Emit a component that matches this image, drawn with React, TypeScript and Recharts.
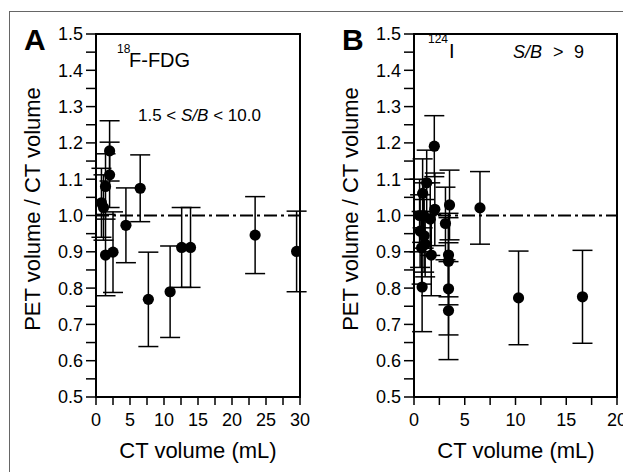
import React from 'react';
import { ScatterChart, Scatter, XAxis, YAxis, ErrorBar, ReferenceLine, ReferenceArea } from 'recharts';

// ---- Data ----
const aX = [0.8, 1.1, 1.4, 2.0, 2.0, 1.4, 2.5, 4.4, 6.5, 7.7, 10.9, 12.6, 13.9, 23.4, 29.5];
const aY = [1.035, 1.022, 1.08, 1.112, 1.178, 0.891, 0.899, 0.973, 1.075, 0.769, 0.79, 0.912, 0.912, 0.946, 0.901];
const aErr = [0.095, 0.09, 0.09, 0.09, 0.083, 0.112, 0.111, 0.103, 0.092, 0.13, 0.126, 0.11, 0.11, 0.106, 0.111];

const bX = [0.55, 0.6, 0.75, 0.85, 0.8, 0.95, 1.0, 1.1, 1.25, 1.6, 1.7, 2.05, 2.0, 3.1, 3.5, 3.4, 3.4, 3.4, 3.4, 6.5, 10.3, 16.6];
const bY = [1.0, 0.957, 0.911, 1.061, 0.803, 1.0, 0.944, 0.921, 1.09, 0.99, 0.891, 1.017, 1.191, 0.978, 1.029, 0.891, 0.874, 0.798, 0.738, 1.021, 0.773, 0.776];
const bErr = [0.1, 0.1, 0.1, 0.095, 0.123, 0.09, 0.1, 0.09, 0.09, 0.1, 0.112, 0.1, 0.084, 0.1, 0.096, 0.115, 0.12, 0.127, 0.135, 0.1, 0.129, 0.128];

const yTicks = [0.5, 0.55, 0.6, 0.65, 0.7, 0.75, 0.8, 0.85, 0.9, 0.95, 1.0, 1.05, 1.1, 1.15, 1.2, 1.25, 1.3, 1.35, 1.4, 1.45, 1.5];
const xTicksA = [0, 2.5, 5, 7.5, 10, 12.5, 15, 17.5, 20, 22.5, 25, 27.5, 30];
const xTicksB = [0, 2.5, 5, 7.5, 10, 12.5, 15, 17.5, 20];

const FONT = '"Liberation Sans", Arial, Helvetica, sans-serif';

const build = (xs: number[], ys: number[], es: number[]) => xs.map((x, i) => ({ x, y: ys[i], err: es[i] }));
const dataA = build(aX, aY, aErr);
const dataB = build(bX, bY, bErr);

const YTick = (p: any) => {
  const v = p.payload.value;
  const major = Math.abs(v * 10 - Math.round(v * 10)) < 1e-6;
  if (!major) return <g />;
  return (
    <text x={p.x} y={p.y} dy="0.36em" textAnchor="end" fontSize={18} fill="#000" fontFamily={FONT}>
      {v.toFixed(1)}
    </text>
  );
};

const XTick = (p: any) => {
  const v = p.payload.value;
  if (v % 5 !== 0) return <g />;
  return (
    <text x={p.x} y={p.y} dy={17} textAnchor="middle" fontSize={18} fill="#000" fontFamily={FONT}>
      {v}
    </text>
  );
};

const Dot = (p: any) => <circle cx={p.cx} cy={p.cy} r={5.6} fill="#000" />;

type PanelProps = {
  data: { x: number; y: number; err: number }[];
  xTicks: number[];
  xMax: number;
  width: number;
  margin: { top: number; right: number; bottom: number; left: number };
  children?: React.ReactNode;
};

const Panel = ({ data, xTicks, xMax, width, margin, children }: PanelProps) => (
  <ScatterChart width={width} height={464} margin={margin} style={{ fontFamily: FONT }}>
    <XAxis
      type="number"
      dataKey="x"
      domain={[0, xMax]}
      ticks={xTicks}
      interval={0}
      tick={<XTick />}
      tickSize={8}
      tickMargin={4}
      height={40}
      axisLine={{ stroke: '#000', strokeWidth: 2 }}
      tickLine={{ stroke: '#000', strokeWidth: 1.5 }}
      allowDataOverflow
    />
    <YAxis
      type="number"
      dataKey="y"
      domain={[0.5, 1.5]}
      ticks={yTicks}
      interval={0}
      tick={<YTick />}
      tickSize={10}
      tickMargin={3}
      width={60}
      axisLine={{ stroke: '#000', strokeWidth: 2 }}
      tickLine={{ stroke: '#000', strokeWidth: 1.5 }}
      allowDataOverflow
    />
    <ReferenceArea x1={0} x2={xMax} y1={0.5} y2={1.5} fill="none" stroke="#000" strokeWidth={2} ifOverflow="visible" />
    <ReferenceLine y={1} stroke="#000" strokeWidth={2} strokeDasharray="13 4 3 4" />
    <Scatter data={data} shape={<Dot />} isAnimationActive={false} fill="#000">
      <ErrorBar dataKey="err" direction="y" width={10} stroke="#000" strokeWidth={1.5} />
    </Scatter>
    {children}
  </ScatterChart>
);

export default function App() {
  return (
    <div style={{ position: 'relative', width: 623, height: 464, overflow: 'hidden', background: '#fff' }}>
      <div
        style={{
          position: 'absolute',
          left: 1,
          top: 3,
          width: 700,
          height: 600,
          borderTop: '1.5px solid #666',
          borderLeft: '1.5px solid #666',
        }}
      />
      <div style={{ position: 'absolute', left: 0, top: 0 }}>
        <Panel data={dataA} xTicks={xTicksA} xMax={30} width={315} margin={{ top: 26, right: 23, bottom: 35, left: 28 }}>
          <text x={16} y={42} fontSize={30} fontWeight="bold" fontFamily={FONT} fill="#000">A</text>
          <text x={109} y={45} fontSize={12} fontFamily={FONT} fill="#000">18</text>
          <text x={121} y={59} fontSize={20} fontFamily={FONT} fill="#000">F-FDG</text>
          <text x={130} y={113} fontSize={17} fontFamily={FONT} fill="#000">
            1.5 &lt; <tspan fontStyle="italic">S/B</tspan> &lt; 10.0
          </text>
          <text x={32} y={201} fontSize={22} fontFamily={FONT} fill="#000" textAnchor="middle" transform="rotate(-90 32 201)">
            PET volume / CT volume
          </text>
          <text x={190} y={450} fontSize={22} fontFamily={FONT} fill="#000" textAnchor="middle">CT volume (mL)</text>
        </Panel>
      </div>
      <div style={{ position: 'absolute', left: 315, top: 0 }}>
        <Panel data={dataB} xTicks={xTicksB} xMax={20} width={308} margin={{ top: 26, right: 14, bottom: 35, left: 31 }}>
          <text x={19} y={42} fontSize={30} fontWeight="bold" fontFamily={FONT} fill="#000">B</text>
          <text x={105} y={35} fontSize={12} fontFamily={FONT} fill="#000">124</text>
          <text x={126} y={50} fontSize={20} fontFamily={FONT} fill="#000">I</text>
          <text y={50} fontSize={18} fontFamily={FONT} fill="#000">
            <tspan x={190} fontStyle="italic">S/B</tspan>
            <tspan x={230}>&gt;</tspan>
            <tspan x={251}>9</tspan>
          </text>
          <text x={35} y={201} fontSize={22} fontFamily={FONT} fill="#000" textAnchor="middle" transform="rotate(-90 35 201)">
            PET volume / CT volume
          </text>
          <text x={193} y={450} fontSize={22} fontFamily={FONT} fill="#000" textAnchor="middle">CT volume (mL)</text>
        </Panel>
      </div>
    </div>
  );
}
